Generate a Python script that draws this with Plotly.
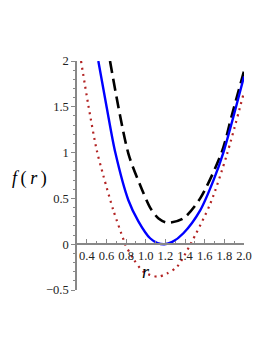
import plotly.graph_objects as go

# Blue solid curve
blue_r = [0.517, 0.603, 0.69, 0.823, 0.925, 1.044, 1.12, 1.19, 1.27, 1.383, 1.554, 1.69, 1.79, 2.0]
blue_f = [2.0, 1.49, 1.0, 0.48, 0.25, 0.065, 0.013, 0.0, 0.025, 0.12, 0.37, 0.70, 1.0, 1.83]

# Black dashed curve
black_r = [0.636, 0.823, 0.96, 1.044, 1.13, 1.22, 1.38, 1.554, 1.775, 1.877, 2.0]
black_f = [2.0, 0.99, 0.60, 0.40, 0.28, 0.235, 0.28, 0.50, 1.01, 1.41, 1.89]

# Red dotted curve
red_r = [0.341, 0.415, 0.50, 0.568, 0.67, 0.77, 0.79, 0.874, 0.976, 1.12, 1.214, 1.316, 1.45, 1.656, 1.826, 2.0]
red_f = [2.0, 1.52, 1.03, 0.75, 0.37, 0.06, 0.0, -0.16, -0.30, -0.355, -0.32, -0.25, -0.01, 0.44, 0.98, 1.66]

x_ticks = [0.4, 0.6, 0.8, 1.0, 1.2, 1.4, 1.6, 1.8, 2.0]
x_labels = ["0.4", "0.6", "0.8", "1.0", "1.2", "1.4", "1.6", "1.8", "2.0"]
y_ticks = [-0.5, 0, 0.5, 1, 1.5, 2]
y_labels = ["\u22120.5", "0", "0.5", "1", "1.5", "2"]

fig = go.Figure()
fig.add_trace(go.Scatter(x=red_r, y=red_f, mode="lines",
                         line=dict(color="#b22222", width=2.2, dash="2px,4.5px", shape="spline", smoothing=0.8)))
fig.add_trace(go.Scatter(x=black_r, y=black_f, mode="lines",
                         line=dict(color="black", width=2.6, dash="12px,6px", shape="spline", smoothing=0.8)))
fig.add_trace(go.Scatter(x=blue_r, y=blue_f, mode="lines",
                         line=dict(color="#0000ff", width=2.4, shape="spline", smoothing=0.8)))

tickfont = dict(family="Liberation Serif", size=12.5, color="#222")

fig.update_layout(
    width=265, height=345,
    margin=dict(l=69, r=29, t=53, b=63),
    paper_bgcolor="white", plot_bgcolor="white",
    showlegend=False,
    xaxis=dict(range=[0.3, 2.0], anchor="free", position=0.2,
               tickvals=x_ticks, ticktext=x_labels, tickfont=tickfont,
               showgrid=False, zeroline=False, showline=True,
               linecolor="#888", linewidth=1.5,
               ticks="inside", ticklen=4, tickcolor="#888", tickwidth=1,
               minor=dict(dtick=0.1, tick0=0.3, ticks="inside", ticklen=2, tickcolor="#888", showgrid=False)),
    yaxis=dict(range=[-0.5, 2.0],
               tickvals=y_ticks, ticktext=y_labels, tickfont=tickfont,
               showgrid=False, zeroline=False, showline=True,
               linecolor="#888", linewidth=1.5,
               ticks="outside", ticklen=4, tickcolor="#888", tickwidth=1,
               minor=dict(dtick=0.1, tick0=0, ticks="outside", ticklen=2, tickcolor="#888", showgrid=False)),
    annotations=[
        dict(text="<i>f</i>\u2009(\u2009<i>r</i>\u2009)", xref="paper", yref="y", x=-0.287, y=0.72,
             xanchor="center", yanchor="middle",
             showarrow=False, font=dict(family="Liberation Serif", size=18, color="black")),
        dict(text="<i>r</i>", xref="x", yref="y", x=1.0, y=-0.3,
             xanchor="center", yanchor="middle",
             showarrow=False, font=dict(family="Liberation Serif", size=18, color="black")),
    ],
)

fig.write_html("out.html")
